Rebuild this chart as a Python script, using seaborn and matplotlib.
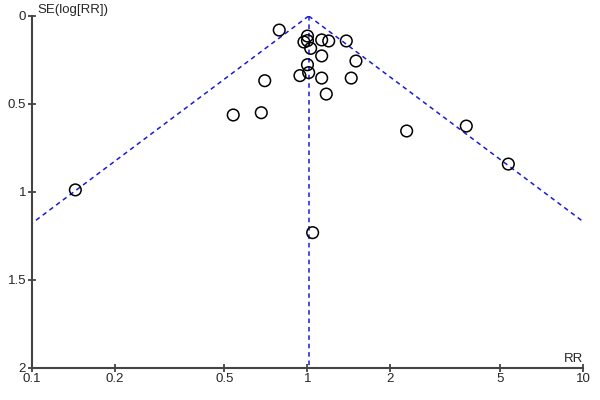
import numpy as np
import pandas as pd
import matplotlib
matplotlib.use("Agg")
import matplotlib.pyplot as plt
import seaborn as sns

# study estimates
rr = [0.144, 0.790, 1.00, 0.971, 1.00, 1.027, 1.126, 1.194, 1.383, 1.126,
      1.499, 1.00, 1.010, 0.939, 1.126, 1.441, 0.700, 1.170, 0.538, 0.680,
      2.289, 3.766, 5.35, 1.044]
se = [0.989, 0.080, 0.114, 0.148, 0.140, 0.184, 0.136, 0.142, 0.142, 0.227,
      0.256, 0.277, 0.322, 0.339, 0.353, 0.353, 0.368, 0.444, 0.563, 0.550,
      0.654, 0.626, 0.842, 1.232]
pooled = 1.01

x_ticks = [0.1, 0.2, 0.5, 1, 2, 5, 10]
x_labels = ["0.1", "0.2", "0.5", "1", "2", "5", "10"]
y_ticks = [0, 0.5, 1, 1.5, 2]
y_labels = ["0", "0.5", "1", "1.5", "2"]

df = pd.DataFrame({"RR": rr, "SE": se})

sns.set_style("white")
plt.rcParams["font.family"] = ["Liberation Sans", "DejaVu Sans"]

fig = plt.figure(figsize=(6, 4), dpi=100)
ax = fig.add_axes([0.0528, 0.0808, 0.9193, 0.8792])

# pseudo 95% confidence limits
se_line = np.array([0, 2])
dash = (0, (3, 2.5))
blue = "#1a1adb"
ax.plot(pooled * np.exp(-1.96 * se_line), se_line, ls=dash, color=blue, lw=1.1)
ax.plot(pooled * np.exp(1.96 * se_line), se_line, ls=dash, color=blue, lw=1.1)
ax.plot([pooled, pooled], [0, 2], ls=dash, color=blue, lw=1.1)

sns.scatterplot(data=df, x="RR", y="SE", ax=ax, s=70, facecolor="none",
                edgecolor="black", linewidth=1.1, zorder=3)

ax.set_xscale("log")
ax.set_xlim(0.1, 10)
ax.set_ylim(2, 0)
ax.set_xticks(x_ticks)
ax.set_xticklabels(x_labels)
ax.minorticks_off()
ax.set_yticks(y_ticks)
ax.set_yticklabels(y_labels)
ax.set_xlabel("")
ax.set_ylabel("")

for s in ["top", "right"]:
    ax.spines[s].set_visible(False)
for s in ["left", "bottom"]:
    ax.spines[s].set_color("#444444")
    ax.spines[s].set_linewidth(1.5)
ax.tick_params(direction="inout", length=6, width=1.3, color="#444444",
               labelsize=9.5, pad=1, left=True, bottom=True)

ax.text(0.011, 1.017, "SE(log[RR])", transform=ax.transAxes, fontsize=9.5,
        ha="left", va="center", clip_on=False)
ax.text(1.0, 0.016, "RR", transform=ax.transAxes, fontsize=9.5,
        ha="right", va="baseline")

fig.savefig("out.png", dpi=100)
